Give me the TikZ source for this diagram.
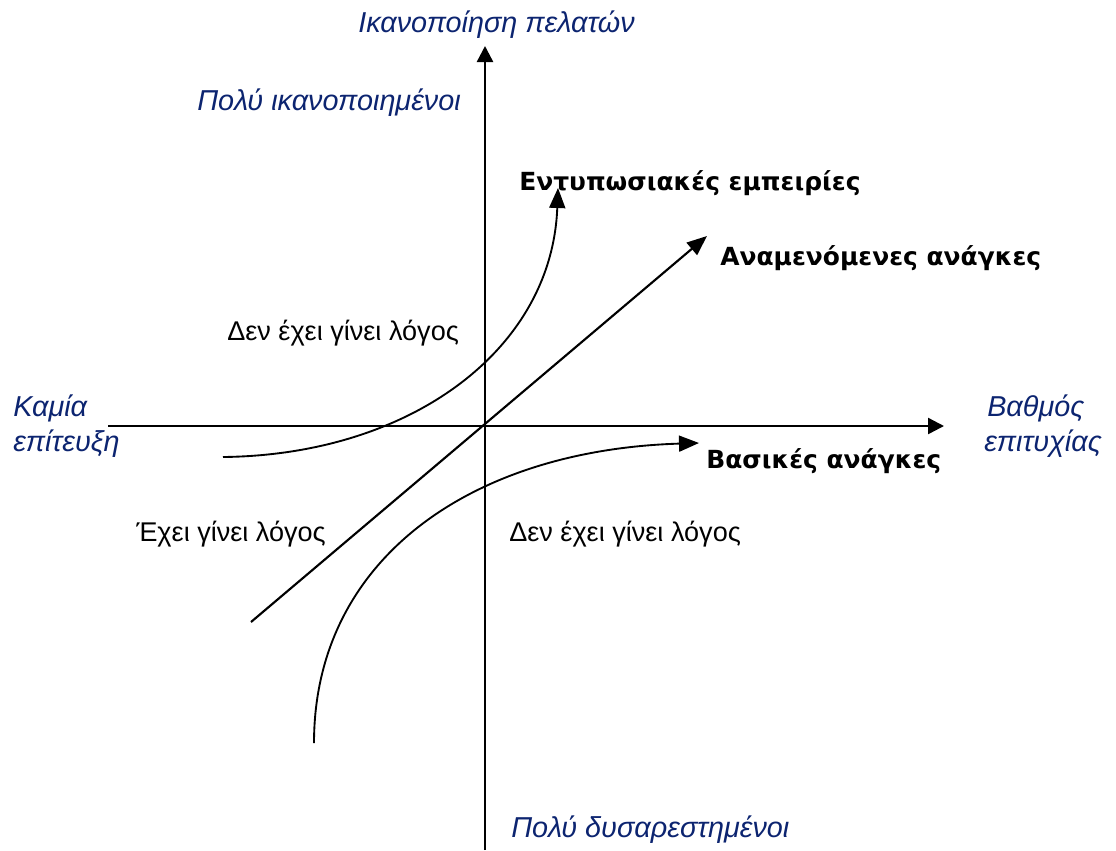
\documentclass[tikz,border=0pt]{standalone}
\usepackage{fontspec}
\setmainfont{Liberation Sans}
\newfontfamily\kanofont{DejaVu Sans}
\usetikzlibrary{arrows.meta}
\definecolor{axisblue}{RGB}{12,36,112}

\begin{document}
\begin{tikzpicture}[x=0.75pt,y=-0.75pt,
    axlbl/.style={text=axisblue,inner sep=0pt,font=\fontsize{21.6}{25}\selectfont\itshape},
    kanolbl/.style={inner sep=0pt,font=\kanofont\bfseries\fontsize{18.7}{22}\selectfont},
    note/.style={inner sep=0pt,font=\fontsize{20.3}{24}\selectfont},
    axis/.style={line width=1.8pt,-{Triangle[length=12pt,width=12pt]}},
    kano/.style={line width=1.4pt,-{Triangle[length=15pt,width=12pt]}}]
  \useasboundingbox (0,0) rectangle (1116,850);
  % axes
  \coordinate (o) at (485,426);
  \coordinate (ybot) at (485,850);
  \coordinate (ytop) at (485,46);
  \coordinate (xleft) at (108,426);
  \coordinate (xright) at (944,426);
  \draw[axis] (ybot) -- (ytop);
  \draw[axis] (xleft) -- (xright);
  \node[axlbl,anchor=west] (sat) at (358,25) {Ικανοποίηση πελατών};
  \node[axlbl,anchor=east] (verysat) at (461,103) {Πολύ ικανοποιημένοι};
  \node[axlbl,anchor=west] (verydis) at (511,830) {Πολύ δυσαρεστημένοι};
  \node[axlbl,anchor=west] (none1) at (13,408) {Καμία};
  \node[axlbl,anchor=west] (none2) at (13,444) {επίτευξη};
  \node[axlbl,anchor=west] (deg1) at (987,408) {Βαθμός};
  \node[axlbl,anchor=west] (deg2) at (984,444) {επιτυχίας};
  % the three kinds of needs
  \coordinate (exc0) at (223,457);
  \coordinate (exc1) at (558,188);
  \draw[kano] (exc0) .. controls (410,455) and (552,350) .. (exc1);
  \coordinate (perf0) at (251,622);
  \coordinate (perf1) at (707,236);
  \draw[axis,line width=1.6pt,-{Triangle[length=15pt,width=12pt]}] (perf0) -- (perf1);
  \coordinate (bas0) at (314,743);
  \coordinate (bas1) at (699,443);
  \draw[kano] (bas0) .. controls (314,560) and (470,450) .. (bas1);
  \node[kanolbl,anchor=west] (exclbl) at (519,183) {Εντυπωσιακές εμπειρίες};
  \node[kanolbl,anchor=west] (perflbl) at (720,258) {Αναμενόμενες ανάγκες};
  \node[kanolbl,anchor=west] (baslbl) at (706,461) {Βασικές ανάγκες};
  \node[note,anchor=west] (unsaid1) at (227,333) {Δεν έχει γίνει λόγος};
  \node[note,anchor=west] (said) at (136,534) {Έχει γίνει λόγος};
  \node[note,anchor=west] (unsaid2) at (509,534) {Δεν έχει γίνει λόγος};
\end{tikzpicture}
\end{document}
